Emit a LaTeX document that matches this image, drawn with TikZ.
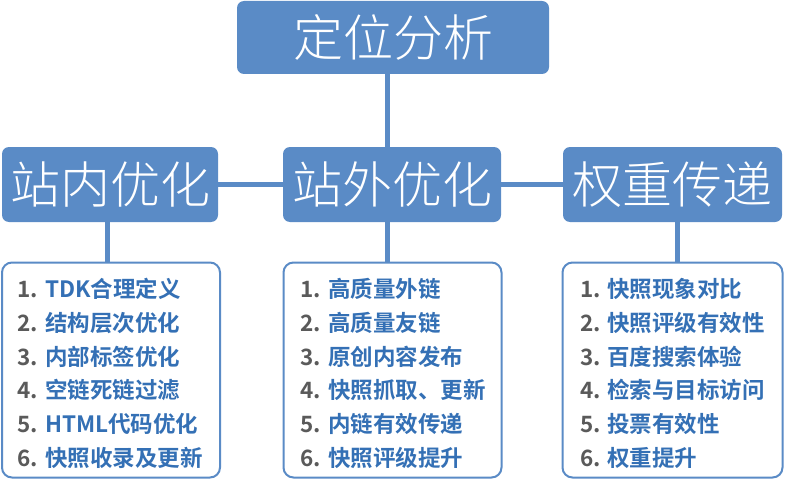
\documentclass[tikz,border=0pt]{standalone}
\usepackage{fontspec}
\newfontfamily\cjkl{Noto Sans CJK SC Light}
\newfontfamily\cjkb{Noto Sans CJK SC Bold}
\definecolor{hdr}{HTML}{5A8BC6}
\definecolor{itm}{HTML}{3470B5}
\definecolor{num}{HTML}{5A5A5A}
\tikzset{
  hbox/.style={draw=none, fill=hdr, rounded corners=7pt, inner sep=0pt, text=white, font=\cjkl\fontsize{50}{52}\selectfont},
  lbox/.style={draw=hdr, line width=2pt, fill=white, rounded corners=10pt, inner sep=0pt},
  conn/.style={draw=hdr, line width=5pt},
  numtxt/.style={anchor=base west, inner sep=0pt, text=num, font=\cjkb\fontsize{22.5}{22.5}\selectfont},
  itmtxt/.style={anchor=base west, inner sep=0pt, text=itm, font=\cjkb\fontsize{22.5}{22.5}\selectfont},
}
\begin{document}
\begin{tikzpicture}[x=1pt,y=-1pt]
\useasboundingbox (0,0) rectangle (800,500);
% headers
\node[hbox, minimum width=312pt, minimum height=73pt] (top) at (393,37.5) {定位分析};
\node[hbox, minimum width=216pt, minimum height=75pt] (left) at (110,184.5) {站内优化};
\node[hbox, minimum width=218pt, minimum height=75pt] (mid) at (392,184.5) {站外优化};
\node[hbox, minimum width=219pt, minimum height=75pt] (right) at (672.5,184.5) {权重传递};
% list boxes
\node[lbox, minimum width=218pt, minimum height=215pt] (lleft) at (111,370) {};
\node[lbox, minimum width=218pt, minimum height=215pt] (lmid) at (392.5,370) {};
\node[lbox, minimum width=220pt, minimum height=215pt] (lright) at (672.5,370) {};
% connector coordinates
\coordinate (c0) at (387,0);
\coordinate (c1) at (107,0);
\coordinate (c2) at (387,0);
\coordinate (c3) at (677,0);
\draw[conn] (c0 |- top.south) -- (c0 |- mid.north);
\draw[conn] (left.east) -- (mid.west);
\draw[conn] (mid.east) -- (right.west);
\draw[conn] (c1 |- left.south) -- (c1 |- lleft.north);
\draw[conn] (c2 |- mid.south) -- (c2 |- lmid.north);
\draw[conn] (c3 |- right.south) -- (c3 |- lright.north);
% list texts
\foreach \i/\t in {1/TDK合理定义,2/结构层次优化,3/内部标签优化,4/空链死链过滤,5/HTML代码优化,6/快照收录及更新}{
  \node[numtxt] (ln\i) at (17,{297.5+(\i-1)*33.8}) {\i.};
  \node[itmtxt] (lt\i) at (45,{297.5+(\i-1)*33.8}) {\t};
}
\foreach \i/\t in {1/高质量外链,2/高质量友链,3/原创内容发布,4/快照抓取、更新,5/内链有效传递,6/快照评级提升}{
  \node[numtxt] (mn\i) at (300,{297.5+(\i-1)*33.8}) {\i.};
  \node[itmtxt] (mt\i) at (328,{297.5+(\i-1)*33.8}) {\t};
}
\foreach \i/\t in {1/快照现象对比,2/快照评级有效性,3/百度搜索体验,4/检索与目标访问,5/投票有效性,6/权重提升}{
  \node[numtxt] (rn\i) at (580,{297.5+(\i-1)*33.8}) {\i.};
  \node[itmtxt] (rt\i) at (607,{297.5+(\i-1)*33.8}) {\t};
}
\end{tikzpicture}
\end{document}
